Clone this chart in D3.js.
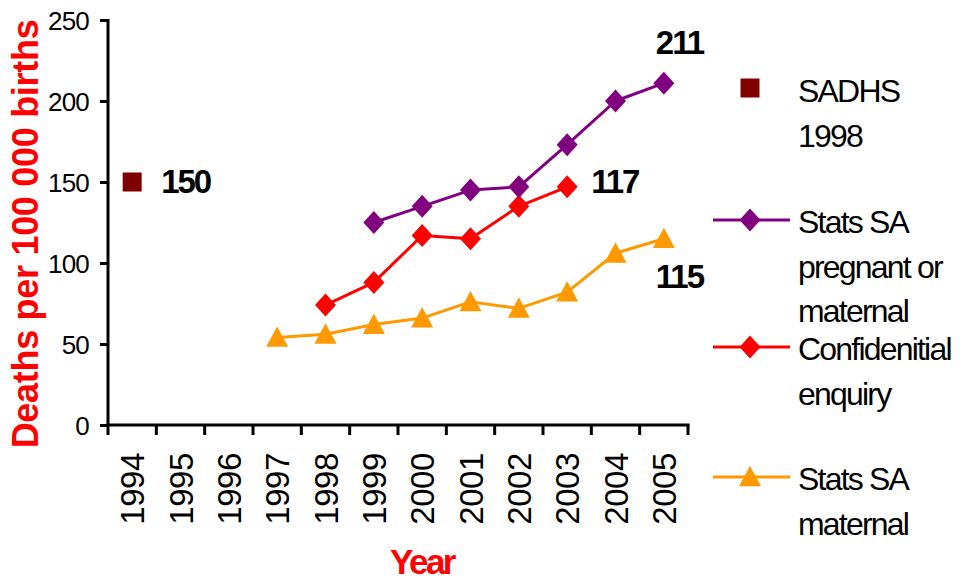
<!DOCTYPE html>
<html>
<head>
<meta charset="utf-8">
<script src="https://cdn.jsdelivr.net/npm/d3@7"></script>
<style>
  html, body { margin: 0; padding: 0; background: #fff; }
  svg { display: block; font-family: "Liberation Sans", Arial, sans-serif; }
</style>
</head>
<body>
<svg id="chart" width="964" height="582"></svg>
<script>
// Maternal mortality, deaths per 100 000 births
const years = ["1994","1995","1996","1997","1998","1999","2000","2001","2002","2003","2004","2005"];
const yTicks = [0, 50, 100, 150, 200, 250];

const sadhsYears = ["1994"];
const sadhsValues = [150];

const pregMatYears = ["1999","2000","2001","2002","2003","2004","2005"];
const pregMatValues = [125, 135, 145, 147, 173, 200, 211];

const confYears = ["1998","1999","2000","2001","2002","2003"];
const confValues = [74, 88, 117, 115, 135, 147];

const maternalYears = ["1997","1998","1999","2000","2001","2002","2003","2004","2005"];
const maternalValues = [54, 56, 62, 66, 76, 72, 82, 106, 115];

// value callouts: [year, value the text is placed beside, text]
const callouts = [
  ["1994", 150, "150"],
  ["2005", 211, "211"],
  ["2003", 147, "117"],
  ["2005", 115, "115"]
];

const legendItems = [
  { lines: ["SADHS", "1998"], color: "#800000", shape: "square", line: false },
  { lines: ["Stats SA", "pregnant or", "maternal"], color: "#800080", shape: "diamond", line: true },
  { lines: ["Confidenitial", "enquiry"], color: "#FF0000", shape: "diamond", line: true },
  { lines: ["Stats SA", "maternal"], color: "#FF9900", shape: "triangle", line: true }
];

const svg = d3.select("#chart");
const plot = { left: 108, right: 688, top: 20, bottom: 425 };

const x = d3.scaleBand().domain(years).range([plot.left, plot.right]).padding(0);
const y = d3.scaleLinear().domain([0, 250]).range([plot.bottom, plot.top]);
const cx = d => x(d) + x.bandwidth() / 2;

// custom marker shapes
const diamond = { draw(ctx, size) { const w = 10.5, h = 11.5;
  ctx.moveTo(0, -h); ctx.lineTo(w, 0); ctx.lineTo(0, h); ctx.lineTo(-w, 0); ctx.closePath(); } };
const triangle = { draw(ctx, size) { const w = 11, h = 11;
  ctx.moveTo(0, -h); ctx.lineTo(w, h * 0.85); ctx.lineTo(-w, h * 0.85); ctx.closePath(); } };
const square = { draw(ctx, size) { const s = 9.5;
  ctx.moveTo(-s, -s); ctx.lineTo(s, -s); ctx.lineTo(s, s); ctx.lineTo(-s, s); ctx.closePath(); } };
const shapes = { diamond, triangle, square };
const sym = t => d3.symbol().type(shapes[t])();

// y axis
const yAxis = svg.append("g")
  .attr("transform", `translate(${plot.left},0)`)
  .call(d3.axisLeft(y).tickValues(yTicks).tickSizeInner(8).tickSizeOuter(0).tickPadding(11));
yAxis.select(".domain").attr("stroke", "#000").attr("stroke-width", 3)
  .attr("d", `M0,${plot.top - 1}V${plot.bottom + 1.5}`);
yAxis.selectAll(".tick line").attr("stroke", "#000").attr("stroke-width", 3);
yAxis.selectAll(".tick text").attr("fill", "#000").style("font-size", "26px")
  .style("letter-spacing", "-0.8px").attr("dy", "0.36em");

// x axis: tick marks at band boundaries, labels centred on bands
const xAxisG = svg.append("g").attr("transform", `translate(0,${plot.bottom})`);
xAxisG.append("line").attr("x1", plot.left - 1.5).attr("x2", plot.right + 1.5)
  .attr("y1", 0).attr("y2", 0).attr("stroke", "#000").attr("stroke-width", 3);
xAxisG.selectAll("line.tick").data(years.map(d => x(d)).concat([plot.right]))
  .join("line").attr("class", "tick")
  .attr("x1", d => d).attr("x2", d => d).attr("y1", 0).attr("y2", 10)
  .attr("stroke", "#000").attr("stroke-width", 3);
xAxisG.selectAll("text").data(years).join("text")
  .attr("transform", d => `translate(${cx(d) + 12},${28}) rotate(-90)`)
  .attr("text-anchor", "end")
  .style("font-size", "33px").style("letter-spacing", "-0.4px")
  .attr("fill", "#000").text(d => d);

// axis titles
svg.append("text")
  .attr("transform", `translate(38,234) rotate(-90)`)
  .attr("text-anchor", "middle").attr("fill", "#FF0000")
  .style("font-size", "36px").style("font-weight", "bold").style("letter-spacing", "-0.3px")
  .text("Deaths per 100 000 births");
svg.append("text")
  .attr("x", 422).attr("y", 574)
  .attr("text-anchor", "middle").attr("fill", "#FF0000")
  .style("font-size", "35px").style("font-weight", "bold").style("letter-spacing", "-2.5px")
  .text("Year");

// series lines and markers
const line = d3.line().x(d => cx(d[0])).y(d => y(d[1]));
function series(cats, vals, color, shape, drawLine) {
  const pts = cats.map((c, i) => [c, vals[i]]);
  if (drawLine) {
    svg.append("path").datum(pts).attr("d", line)
      .attr("fill", "none").attr("stroke", color).attr("stroke-width", 3)
      .attr("stroke-linejoin", "round");
  }
  svg.append("g").selectAll("path").data(pts).join("path")
    .attr("transform", d => `translate(${cx(d[0])},${y(d[1])})`)
    .attr("d", sym(shape)).attr("fill", color);
}
series(maternalYears, maternalValues, "#FF9900", "triangle", true);
series(confYears, confValues, "#FF0000", "diamond", true);
series(pregMatYears, pregMatValues, "#800080", "diamond", true);
series(sadhsYears, sadhsValues, "#800000", "square", false);

// value callouts
const calloutOffsets = { "150": [29, 11], "211": [-8, -29], "117": [24, 6], "115": [-8, 49] };
svg.append("g").selectAll("text").data(callouts).join("text")
  .attr("x", d => cx(d[0]) + calloutOffsets[d[2]][0])
  .attr("y", d => y(d[1]) + calloutOffsets[d[2]][1])
  .style("font-size", "33px").style("font-weight", "bold").style("letter-spacing", "-2px")
  .attr("fill", "#000").text(d => d[2]);

// legend
const legendTops = [102, 233, 360, 490];
const lg = svg.append("g");
legendItems.forEach((item, i) => {
  const base = legendTops[i];
  const g = lg.append("g");
  const my = item.line ? base - 13 : base - 14;
  if (item.line) {
    g.append("line").attr("x1", 713).attr("x2", 790).attr("y1", my).attr("y2", my)
      .attr("stroke", item.color).attr("stroke-width", 3);
  }
  g.append("path").attr("transform", `translate(750,${my})`)
    .attr("d", sym(item.shape)).attr("fill", item.color);
  g.selectAll("text").data(item.lines).join("text")
    .attr("x", 798).attr("y", (d, j) => base + j * 44.5)
    .style("font-size", "32px").style("letter-spacing", "-1.8px")
    .attr("fill", "#000").text(d => d);
});
</script>
</body>
</html>
